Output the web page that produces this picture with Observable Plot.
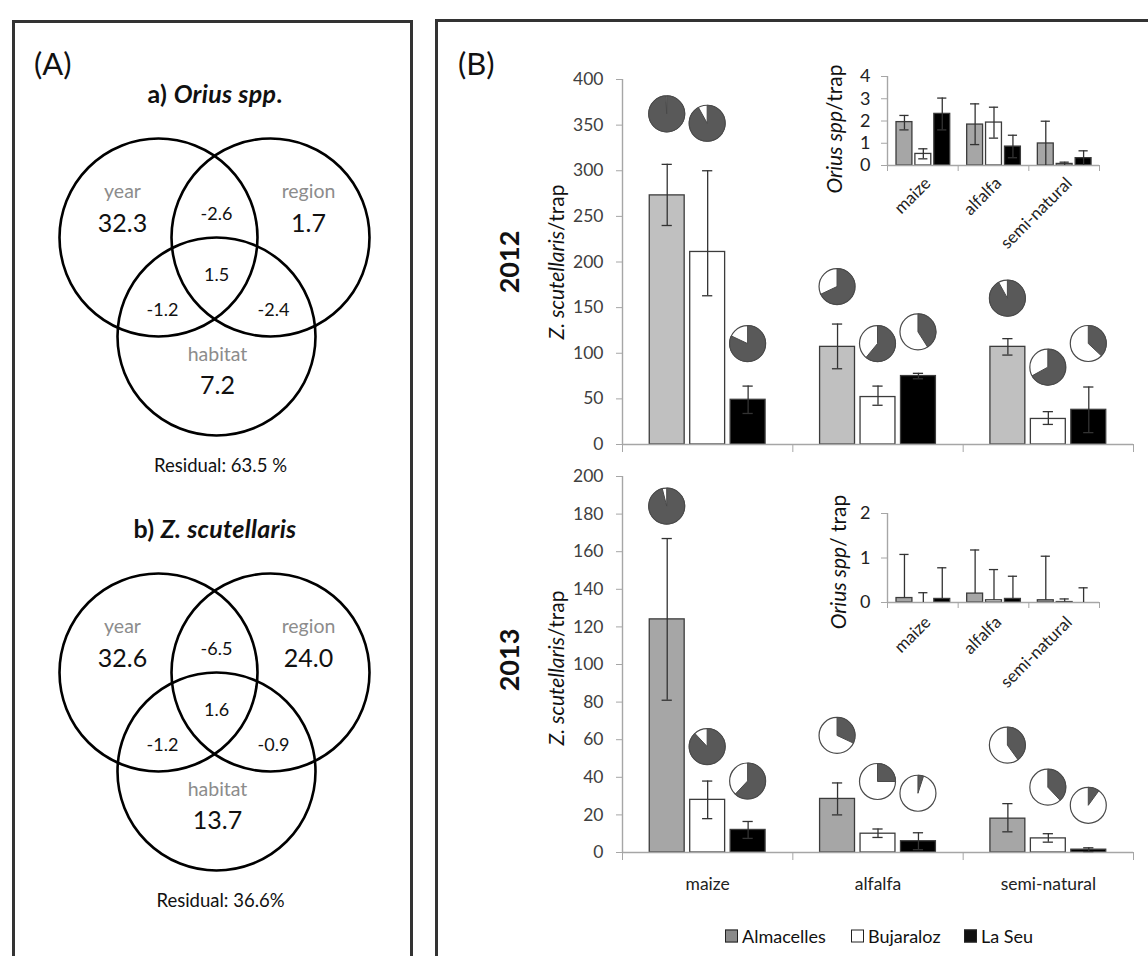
<!DOCTYPE html>
<html><head><meta charset="utf-8">
<script src="https://cdn.jsdelivr.net/npm/d3@7"></script>
<script src="https://cdn.jsdelivr.net/npm/@observablehq/plot@0.6"></script>
<style>
body{margin:0;background:#fff;}
#page{position:relative;width:1148px;height:956px;overflow:hidden;background:#fff;font-family:Lato,"Open Sans",sans-serif;color:#111;}
.box{position:absolute;border:3px solid #333;box-sizing:border-box;}
.rot{position:absolute;transform:translate(-50%,-50%) rotate(-90deg);white-space:nowrap;}
.ctr{position:absolute;transform:translate(-50%,-50%);white-space:nowrap;}
.lg{position:absolute;font-size:18px;white-space:nowrap;transform:translateY(-50%);}
.sw{position:absolute;width:11px;height:11px;border:1px solid #222;transform:translateY(-50%);}
</style></head>
<body><div id="page"></div>
<script>
// ---------------- DATA ----------------
const habitats = ["maize", "alfalfa", "semi-natural"];
const sites = ["Almacelles", "Bujaraloz", "La Seu"];

// Venn partitions (% variance)
const vennFactors = ["year", "region", "habitat"];
const oriusUnique = [32.3, 1.7, 7.2];
const oriusPairs = [-2.6, -1.2, -2.4];   // year∩region, year∩habitat, region∩habitat
const oriusAll = 1.5;
const oriusResidual = "Residual: 63.5 %";
const zsUnique = [32.6, 24.0, 13.7];
const zsPairs = [-6.5, -1.2, -0.9];
const zsAll = 1.6;
const zsResidual = "Residual: 36.6%";

// Z. scutellaris / trap (order: maize A,B,L, alfalfa A,B,L, semi-natural A,B,L)
const zs2012Mean = [273, 211, 49, 107, 52, 75, 107, 28, 38];
const zs2012Low  = [240, 163, 34, 83, 43, 72, 98, 22, 13];
const zs2012High = [307, 300, 64, 132, 64, 78, 116, 36, 63];
const zs2013Mean = [124, 28, 12, 28.5, 10, 6, 18, 7.5, 1.5];
const zs2013Low  = [81, 18, 7.5, 20, 8, 1.5, 11, 5.5, 0.5];
const zs2013High = [167, 38, 16.5, 37, 12.5, 10.5, 26, 10, 2.5];

// share shown dark in each pie
const pieDark2012 = [0.99, 0.92, 0.82, 0.68, 0.61, 0.41, 0.92, 0.67, 0.37];
const pieDark2013 = [0.96, 0.88, 0.62, 0.32, 0.25, 0.05, 0.40, 0.38, 0.10];

// Orius spp / trap (insets)
const or2012Mean = [1.95, 0.52, 2.32, 1.84, 1.93, 0.85, 0.99, 0.07, 0.33];
const or2012Low  = [1.6, 0.3, 1.6, 0.94, 1.23, 0.35, 0, 0, 0];
const or2012High = [2.25, 0.75, 3.03, 2.77, 2.62, 1.36, 1.99, 0.15, 0.66];
const or2013Mean = [0.1, 0, 0.08, 0.2, 0.05, 0.08, 0.05, 0.01, 0];
const or2013High = [1.08, 0.22, 0.78, 1.18, 0.74, 0.59, 1.04, 0.08, 0.33];

const yTicks2012 = [0, 50, 100, 150, 200, 250, 300, 350, 400];
const yTicks2013 = [0, 20, 40, 60, 80, 100, 120, 140, 160, 180, 200];
const yTicksIn2012 = [0, 1, 2, 3, 4];
const yTicksIn2013 = [0, 1, 2];

// ---------------- LAYOUT / STYLE ----------------
const AX = "#a6a6a6";
const FONT = "Lato, 'Open Sans', sans-serif";
const pieLift2012 = [50, 47, 42, 37, 42, 41, 40, 44, 43];
const pieLift2013 = [32, 34, 40, 47, 47, 39, 58, 46, 42];
const VENN = {
  r: 99,
  circles: [[-56, -33], [56, -33], [2, 66]],
  factorLabel: [[-92, -79], [94, -79], [3, 84]],
  factorValue: [[-92, -47], [94, -47], [3, 115]],
  pairs: [[2, -56], [-52, 40], [59, 40]],
  all: [2, 5],
  residual: [6, 196]
};
const MAIN = {centers: [0.2625, 0.5, 0.7375], barW: 0.205, cap: 0.03, tickSize: 6, tickPadding: 13, fontSize: 17.5, tickColor: "#404040", xTick: 8};
const INSET = {centers: [0.24, 0.507, 0.775], barW: 0.225, cap: 0.065, tickSize: 6, tickPadding: 11, fontSize: 18, tickColor: "#222", xTick: 6};
const baseStyle = {background: "transparent", overflow: "visible", maxWidth: "none", fontFamily: FONT, color: "#222"};

const page = document.getElementById("page");
function place(node, left, top) {
  node.style.position = "absolute";
  node.style.left = left + "px";
  node.style.top = top + "px";
  page.appendChild(node);
  return node;
}
function html(tag, cls, css, inner) {
  const e = document.createElement(tag);
  if (cls) e.className = cls;
  e.style.cssText = css;
  e.innerHTML = inner;
  page.appendChild(e);
  return e;
}

function rowsFrom(mean, low, high, dark) {
  const rows = [];
  habitats.forEach((h, hi) => sites.forEach((s, si) => {
    const k = hi * 3 + si;
    rows.push({habitat: h, site: s, hi, si, k, mean: mean[k], low: low ? low[k] : mean[k], high: high[k], dark: dark ? dark[k] : null});
  }));
  return rows;
}

function pieMark(rows, cx, lift, r) {
  return Plot.dot(rows, {
    x: cx, y: "high", r,
    render(index, scales, values) {
      const g = d3.create("svg:g");
      for (const i of index) {
        const d = rows[i];
        const x = values.x[i], y = values.y[i] - lift[d.k];
        const pg = g.append("g").attr("transform", `translate(${x},${y})`);
        pg.append("circle").attr("r", r).attr("fill", "#fff").attr("stroke", "#4a4a4a").attr("stroke-width", 1.2);
        pg.append("path")
          .attr("d", d3.arc()({innerRadius: 0, outerRadius: r, startAngle: 0, endAngle: d.dark * 2 * Math.PI}))
          .attr("fill", "#595959").attr("stroke", "#4a4a4a").attr("stroke-width", 1);
      }
      return g.node();
    }
  });
}

function barPlot({rows, fills, yDomain, yTicks, L, width, height, margins, pies, lift, lowCaps, labels}) {
  const cx = d => d.hi + L.centers[d.si];
  const marks = [
    Plot.ruleX([0], {stroke: AX, strokeWidth: 1.4}),
    Plot.axisY({ticks: yTicks, tickFormat: d => String(d), tickSize: L.tickSize, tickPadding: L.tickPadding, fontSize: L.fontSize, stroke: AX, fill: L.tickColor, label: null}),
    Plot.axisX({ticks: [0, 1, 2, 3], tickSize: L.xTick, tickFormat: () => "", stroke: AX, label: null}),
    Plot.rect(rows, {x1: d => cx(d) - L.barW / 2, x2: d => cx(d) + L.barW / 2, y1: () => 0, y2: "mean", fill: "site", stroke: "#3c3c3c", strokeWidth: 1.3}),
    Plot.ruleY([0], {stroke: AX, strokeWidth: 1.6}),
    Plot.ruleX(rows, {x: cx, y1: "low", y2: "high", stroke: "#333", strokeWidth: 1.3}),
    Plot.ruleY(rows, {y: "high", x1: d => cx(d) - L.cap, x2: d => cx(d) + L.cap, stroke: "#333", strokeWidth: 1.3})
  ];
  if (lowCaps) marks.push(Plot.ruleY(rows.filter(d => d.low > 0 && d.low < d.mean), {y: "low", x1: d => cx(d) - L.cap, x2: d => cx(d) + L.cap, stroke: "#333", strokeWidth: 1.3}));
  if (pies) marks.push(pieMark(rows, cx, lift, 18));
  if (labels) marks.push(labels);
  return Plot.plot({
    width, height, ...margins,
    x: {domain: [0, 3]},
    y: {domain: yDomain},
    color: {domain: sites, range: fills},
    style: baseStyle,
    marks
  });
}

function venn(unique, pairs, all, residual) {
  const H = 380, top = 150;
  const px = (arr) => (d, i) => arr[i][0];
  const py = (arr) => (d, i) => arr[i][1];
  return Plot.plot({
    width: 401, height: H, margin: 0,
    x: {domain: [-202, 199], range: [0, 401], axis: null},
    y: {domain: [-top, H - top], range: [0, H], axis: null},
    style: baseStyle,
    marks: [
      Plot.dot(vennFactors, {x: px(VENN.circles), y: py(VENN.circles), r: VENN.r, stroke: "#000", strokeWidth: 2.6, fill: "none"}),
      Plot.text(vennFactors, {x: px(VENN.factorLabel), y: py(VENN.factorLabel), text: d => d, fill: "#8c8c8c", fontSize: 19.5}),
      Plot.text(unique, {x: px(VENN.factorValue), y: py(VENN.factorValue), text: d => d.toFixed(1), fill: "#111", fontSize: 25}),
      Plot.text(pairs, {x: px(VENN.pairs), y: py(VENN.pairs), text: d => d.toFixed(1), fill: "#111", fontSize: 18}),
      Plot.text([all], {x: () => VENN.all[0], y: () => VENN.all[1], text: d => d.toFixed(1), fill: "#111", fontSize: 18}),
      Plot.text([residual], {x: () => VENN.residual[0], y: () => VENN.residual[1], text: d => d, fill: "#111", fontSize: 18.5})
    ]
  });
}

// ---------------- PANEL FRAMES ----------------
html("div", "box", "left:12px;top:20px;width:401px;height:1000px;", "");
html("div", "box", "left:435px;top:19px;width:800px;height:1000px;", "");
html("div", "", "position:absolute;left:34px;top:44px;font-size:31px;", "(A)");
html("div", "", "position:absolute;left:458px;top:44px;font-size:31px;", "(B)");

// ---------------- PANEL A ----------------
html("div", "ctr", "left:215px;top:93px;font-size:25px;font-weight:bold;letter-spacing:0.3px;", "a) <i>Orius spp</i>.");
place(venn(oriusUnique, oriusPairs, oriusAll, oriusResidual), 12, 120);
html("div", "ctr", "left:215px;top:528px;font-size:25px;font-weight:bold;letter-spacing:0.3px;", "b) <i>Z. scutellaris</i>");
place(venn(zsUnique, zsPairs, zsAll, zsResidual), 12, 555);

// ---------------- PANEL B ----------------
const rows2012 = rowsFrom(zs2012Mean, zs2012Low, zs2012High, pieDark2012);
const rows2013 = rowsFrom(zs2013Mean, zs2013Low, zs2013High, pieDark2013);
const rowsIn2012 = rowsFrom(or2012Mean, or2012Low, or2012High, null);
const rowsIn2013 = rowsFrom(or2013Mean, null, or2013High, null);

place(barPlot({rows: rows2012, fills: ["#c0c0c0", "#ffffff", "#000000"], yDomain: [0, 400], yTicks: yTicks2012, L: MAIN,
  width: 588, height: 400, margins: {marginLeft: 62, marginRight: 15, marginTop: 19, marginBottom: 16},
  pies: true, lift: pieLift2012, lowCaps: true}), 560, 60);

place(barPlot({rows: rows2013, fills: ["#a6a6a6", "#ffffff", "#000000"], yDomain: [0, 200], yTicks: yTicks2013, L: MAIN,
  width: 588, height: 440, margins: {marginLeft: 62, marginRight: 15, marginTop: 16, marginBottom: 48},
  pies: true, lift: pieLift2013, lowCaps: true,
  labels: Plot.text(habitats, {x: (d, i) => i + 0.5, y: () => 0, text: d => d, dy: 32, fontSize: 17.5, fill: "#222"})}), 560, 460);

const insetLabels = (dy) => Plot.text(habitats, {x: (d, i) => i + 0.5, y: () => 0, text: d => d, rotate: -45, textAnchor: "end", dx: 5, dy, fontSize: 17, fill: "#222"});

place(barPlot({rows: rowsIn2012, fills: ["#a6a6a6", "#ffffff", "#000000"], yDomain: [0, 4], yTicks: yTicksIn2012, L: INSET,
  width: 328, height: 170, margins: {marginLeft: 67, marginRight: 49, marginTop: 16, marginBottom: 65},
  pies: false, lowCaps: true, labels: insetLabels(15)}), 820, 60);

place(barPlot({rows: rowsIn2013, fills: ["#a6a6a6", "#ffffff", "#000000"], yDomain: [0, 2], yTicks: yTicksIn2013, L: INSET,
  width: 328, height: 220, margins: {marginLeft: 67, marginRight: 49, marginTop: 33, marginBottom: 98},
  pies: false, lowCaps: false, labels: insetLabels(17)}), 820, 480);

// axis titles
html("div", "rot", "left:508px;top:262px;font-size:27px;font-weight:bold;", "2012");
html("div", "rot", "left:555px;top:262px;font-size:21px;", "<i>Z. scutellaris</i>/trap");
html("div", "rot", "left:508px;top:660px;font-size:27px;font-weight:bold;", "2013");
html("div", "rot", "left:555px;top:668px;font-size:21px;", "<i>Z. scutellaris</i>/trap");
html("div", "rot", "left:833px;top:129px;font-size:21px;", "<i>Orius spp</i>/trap");
html("div", "rot", "left:837px;top:562px;font-size:21px;", "<i>Orius spp</i>/ trap");

// legend
const legendItems = [
  {label: sites[0], fill: "#8a8a8a", sx: 725, tx: 742},
  {label: sites[1], fill: "#ffffff", sx: 851, tx: 868},
  {label: sites[2], fill: "#111111", sx: 964, tx: 981}
];
for (const it of legendItems) {
  html("div", "sw", `left:${it.sx}px;top:936px;background:${it.fill};`, "");
  html("div", "lg", `left:${it.tx}px;top:936px;`, it.label);
}
</script></body></html>
